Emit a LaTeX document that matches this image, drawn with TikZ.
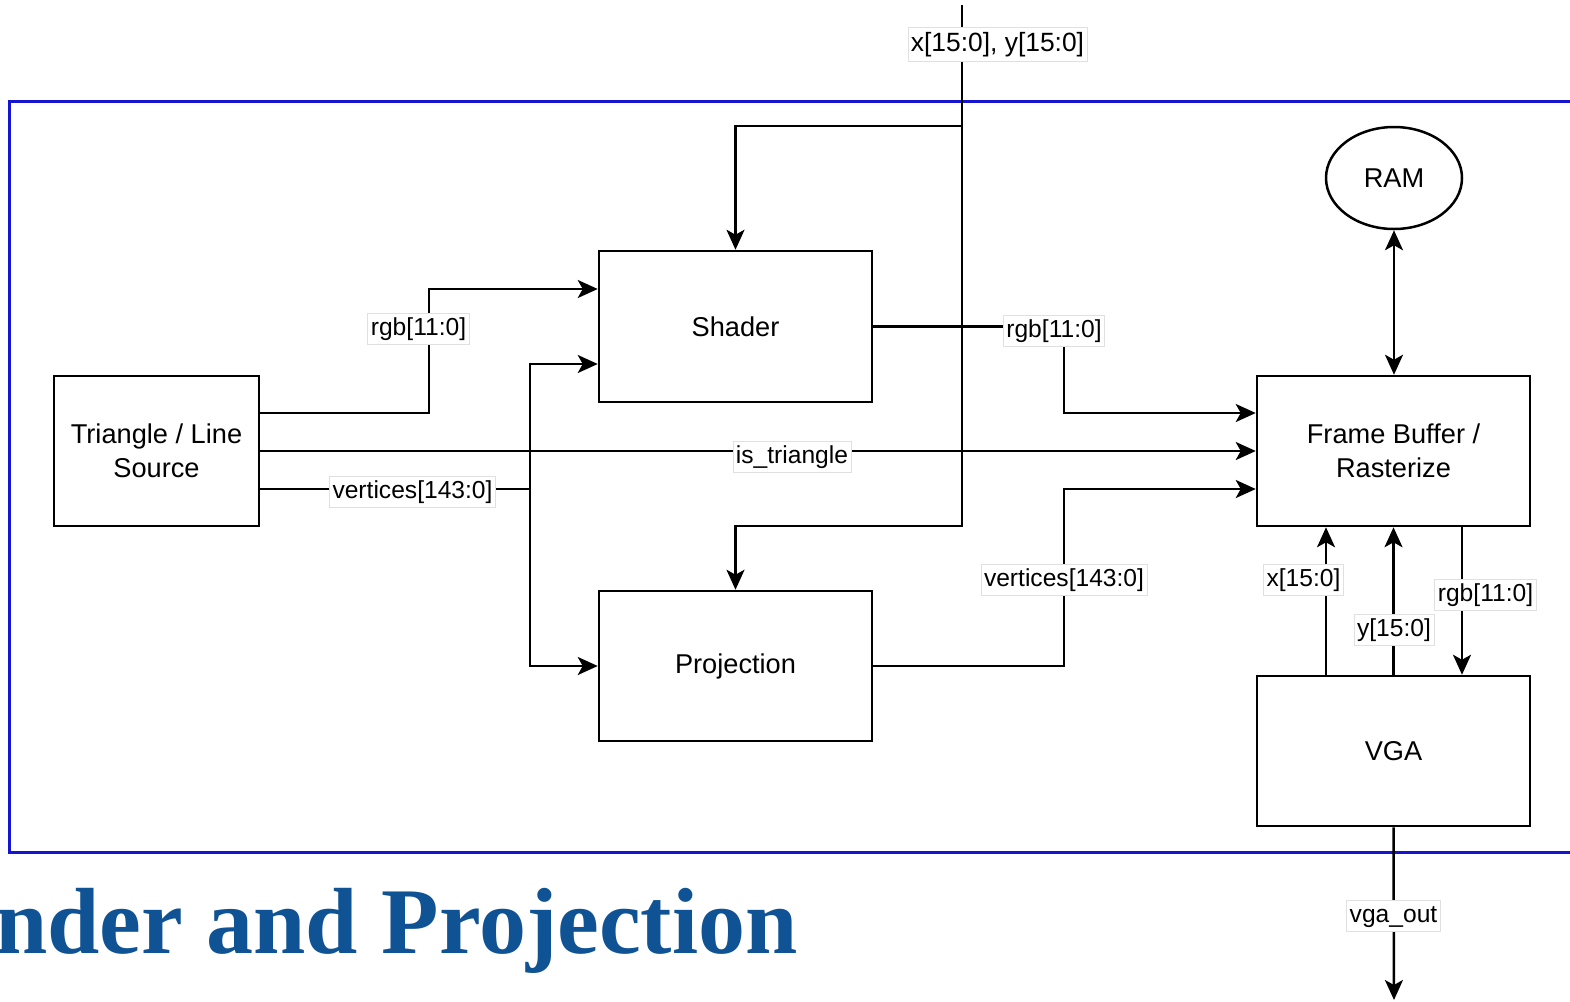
\documentclass[tikz,border=0pt]{standalone}
\usepackage{fontspec}
\setmainfont{Liberation Sans}
\newfontfamily\titlefont{Liberation Serif}
\usetikzlibrary{arrows.meta,shapes.geometric,calc}
\definecolor{frameblue}{RGB}{20,20,210}
\definecolor{titleblue}{RGB}{16,83,148}
\begin{document}
\begin{tikzpicture}[x=0.5pt,y=-0.5pt,
  box/.style={draw, line width=1.25pt, rectangle, inner sep=0pt, align=center, font=\fontsize{13.6}{17}\selectfont},
  lbl/.style={fill=white, draw=black!12, line width=0.4pt, inner xsep=1.5pt, inner ysep=2pt, text height=9pt, text depth=2.5pt, font=\fontsize{12.3}{14}\selectfont},
  wire/.style={line width=1.25pt, line join=miter},
  arr/.style={wire, -{Stealth[length=10pt,width=9pt,inset=2.5pt]}},
  darr/.style={wire, {Stealth[length=10pt,width=9pt,inset=2.5pt]}-{Stealth[length=10pt,width=9pt,inset=2.5pt]}}]
\useasboundingbox (0,0) rectangle (1570,1002);
\clip (0,0) rectangle (1570,1002);
\fill[white] (0,0) rectangle (1570,1002);
% region frame
\draw[frameblue, line width=1.5pt] (9,101) rectangle (1590,852);
% blocks
\node[box, minimum width=102.5pt, minimum height=75pt] (src) at (156.5,451) {Triangle / Line\\Source};
\node[box, minimum width=136.5pt, minimum height=75.5pt] (shader) at (735.5,326.5) {Shader};
\node[box, minimum width=136.5pt, minimum height=75pt] (proj) at (735.5,666) {Projection};
\node[box, minimum width=136.5pt, minimum height=75pt] (fb) at (1393.5,451) {Frame Buffer /\\Rasterize};
\node[box, minimum width=136.5pt, minimum height=75pt] (vga) at (1393.5,751) {VGA};
\node[draw, ellipse, line width=1.25pt, minimum width=68pt, minimum height=51pt, inner sep=0pt, font=\fontsize{13.6}{17}\selectfont] (ram) at (1394,178) {RAM};
\coordinate (in) at (962,5);
\coordinate (out) at (1394,1000);
% connectors
\draw[arr] (in) -- (962,526) -| (proj.north);
\draw[arr] (962,126) -| (shader.north);
\draw[arr] (src.east |- 0,413) -| (429,289) -- (shader.west |- 0,289);
\draw[arr] (src.east) -- (fb.west);
\draw[arr] (src.east |- 0,489) -| (530,364) -- (shader.west |- 0,364);
\draw[arr] (530,489) |- (proj.west);
\draw[arr] (shader.east) -| (1064,413) -- (fb.west |- 0,413);
\draw[arr] (proj.east) -| (1064,489) -- (fb.west |- 0,489);
\draw[darr] (ram.south) -- (ram.south |- fb.north);
\draw[arr] (vga.north -| 1326,0) -- (fb.south -| 1326,0);
\draw[arr] (vga.north) -- (fb.south);
\draw[arr] (fb.south -| 1462,0) -- (vga.north -| 1462,0);
\draw[arr] (vga.south) -- (out);
% labels
\node[lbl, font=\fontsize{13.2}{15}\selectfont, text height=10pt, text depth=3pt] (l1) at (997.5,44) {x[15:0], y[15:0]};
\node[lbl] (l2) at (418.5,329) {rgb[11:0]};
\node[lbl] (l3) at (792,457) {is\_triangle};
\node[lbl] (l4) at (412.5,492) {vertices[143:0]};
\node[lbl] (l5) at (1054,331) {rgb[11:0]};
\node[lbl] (l6) at (1064,580) {vertices[143:0]};
\node[lbl] (l7) at (1303.5,580) {x[15:0]};
\node[lbl] (l8) at (1394,630) {y[15:0]};
\node[lbl] (l9) at (1485.5,595) {rgb[11:0]};
\node[lbl] (l10) at (1393.5,916) {vga\_out};
% title
\node[anchor=base east, inner sep=0pt, text=titleblue, font=\titlefont\bfseries\fontsize{47}{47}\selectfont] (title) at (798,953) {nder and Projection};
\end{tikzpicture}
\end{document}
